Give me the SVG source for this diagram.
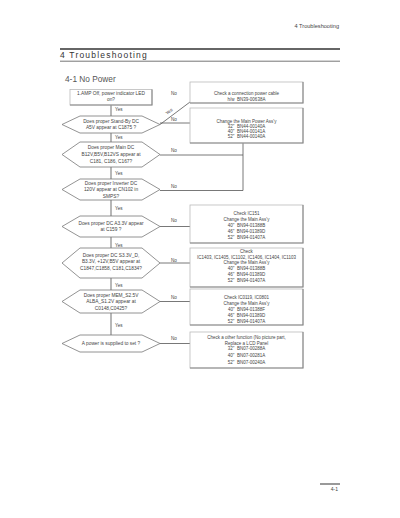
<svg xmlns="http://www.w3.org/2000/svg" width="400" height="518" viewBox="0 0 400 518">
<style>
text{font-family:"Liberation Sans",Arial,sans-serif;fill:#444;white-space:pre}
.t{font-size:4.8px;text-anchor:middle}
.r{font-size:4.5px;text-anchor:middle}
.lb{font-size:4.6px}
.hex{fill:#fff;stroke:#777;stroke-width:0.8}
.box{fill:#fff;stroke:#bbb;stroke-width:0.8}
.sh{fill:none;stroke:#888;stroke-width:1.1}
.v{stroke:#999;stroke-width:1.4;fill:none}
.h{stroke:#555;stroke-width:0.8;fill:none}
</style>
<rect width="400" height="518" fill="#fff"/>
<text x="339" y="28" style="font-size:5.6px;text-anchor:end">4 Troubleshooting</text>
<line x1="60" y1="49" x2="340" y2="49" stroke="#333" stroke-width="1.7"/>
<text x="60" y="57.5" style="font-size:8.5px;letter-spacing:1.2px;fill:#333">4 Troubleshooting</text>
<line x1="60" y1="61.2" x2="340" y2="61.2" stroke="#666" stroke-width="0.9"/>
<text x="65" y="82" style="font-size:8.3px;fill:#555">4-1 No Power</text>

<g id="connectors">
<path class="v" d="M111,105V116M111,133V142M111,167V179M111,200V216M111,237V248M111,278V290M111,313V335"/>
<path class="h" d="M160,124.5L190,102"/>
<path class="h" d="M160,123H190M160,155H243V143M160,190.5H243V155M160,226.5H190M160,263H190M160,301.5H190M160,343.5H190"/>
<text class="lb" x="115" y="110.5">Yes</text>
<text class="lb" x="115" y="138.5">Yes</text>
<text class="lb" x="115" y="174.5">Yes</text>
<text class="lb" x="115" y="209.5">Yes</text>
<text class="lb" x="115" y="246.5">Yes</text>
<text class="lb" x="115" y="286.5">Yes</text>
<text class="lb" x="115" y="326.5">Yes</text>
<text class="lb" x="167" y="115" transform="rotate(-37 167 115)">Yes</text>
<text class="lb" x="171" y="94.5">No</text>
<text class="lb" x="171" y="121">No</text>
<text class="lb" x="171" y="151.5">No</text>
<text class="lb" x="171" y="187.5">No</text>
<text class="lb" x="171" y="221.5">No</text>
<text class="lb" x="171" y="261.5">No</text>
<text class="lb" x="171" y="298.5">No</text>
<text class="lb" x="171" y="339.5">No</text>
</g>

<g id="start">
<rect class="box" x="70" y="89.5" width="82" height="15.5"/>
<path class="sh" d="M152,89.5V105H70"/>
<text class="t" x="111" y="94.8">1.AMP Off, power indicator LED</text>
<text class="t" x="111" y="101.3">on?</text>
</g>

<g id="q1">
<path class="hex" d="M62,124.5L80,116H142L160,124.5L142,133H80Z"/>
<text class="t" x="111" y="122.7">Does proper Stand-By DC</text>
<text class="t" x="111" y="128.7">A5V appear at C1875 ?</text>
</g>
<g id="q2">
<path class="hex" d="M62,154.5L80,142H142L160,154.5L142,167H80Z"/>
<text class="t" x="111" y="148.7">Does proper Main DC</text>
<text class="t" x="111" y="155.7">B12V,B5V,B12VS appear at</text>
<text class="t" x="111" y="162.7">C181, C186, C167?</text>
</g>
<g id="q3">
<path class="hex" d="M62,189.5L80,179H142L160,189.5L142,200H80Z"/>
<text class="t" x="111" y="184.7">Does proper Inverter DC</text>
<text class="t" x="111" y="191.2">120V appear at CN102 in</text>
<text class="t" x="111" y="197.7">SMPS?</text>
</g>
<g id="q4">
<path class="hex" d="M62,226.5L80,216H142L160,226.5L142,237H80Z"/>
<text class="t" x="111" y="224.7">Does proper DC A3.3V appear</text>
<text class="t" x="111" y="230.7">at C159 ?</text>
</g>
<g id="q5">
<path class="hex" d="M62,263L80,248H142L160,263L142,278H80Z"/>
<text class="t" x="111" y="256.7">Does proper DC S3.3V_D,</text>
<text class="t" x="111" y="263.4">B3.3V, +12V,B5V appear at</text>
<text class="t" x="111" y="270">C1847,C1858, C181,C1834?</text>
</g>
<g id="q6">
<path class="hex" d="M62,301.5L80,290H142L160,301.5L142,313H80Z"/>
<text class="t" x="111" y="297.4">Does proper MEM_S2.5V</text>
<text class="t" x="111" y="303.4">ALBA_S1.2V appear at</text>
<text class="t" x="111" y="310">C0148,C0425?</text>
</g>
<g id="q7">
<path class="hex" d="M62,343.5L80,335H142L160,343.5L142,352H80Z"/>
<text class="t" x="111" y="344.7">A power is supplied to set ?</text>
</g>

<g id="a1">
<rect class="box" x="190" y="82" width="113" height="21"/>
<path class="sh" d="M303,82V103H190"/>
<text class="r" x="246.5" y="95">Check a connection power cable</text>
<text class="r" x="246.5" y="100.7">h/w  BN39-00638A</text>
</g>
<g id="a2">
<rect class="box" x="190" y="108" width="113" height="35"/>
<path class="sh" d="M303,108V143H190"/>
<text class="r" x="246.5" y="123.2">Change the Main Power Ass'y</text>
<text class="r" x="246.5" y="128.2">32"  BN44-00140A</text>
<text class="r" x="246.5" y="133.2">40"  BN44-00141A</text>
<text class="r" x="246.5" y="138.2">52"  BN44-00140A</text>
</g>
<g id="a3">
<rect class="box" x="190" y="205" width="113" height="38"/>
<path class="sh" d="M303,205V243H190"/>
<text class="r" x="246.5" y="214.5">Check IC151</text>
<text class="r" x="246.5" y="220.5">Change the Main Ass'y</text>
<text class="r" x="246.5" y="226.5">40"  BN94-01388B</text>
<text class="r" x="246.5" y="232.5">46"  BN94-01389D</text>
<text class="r" x="246.5" y="238.5">52"  BN94-01407A</text>
</g>
<g id="a4">
<rect class="box" x="190" y="248" width="113" height="39"/>
<path class="sh" d="M303,248V287H190"/>
<text class="r" x="246.5" y="252.8">Check</text>
<text class="r" x="246.5" y="258.5">IC1403, IC1405, IC1102, IC1406, IC1404, IC1103</text>
<text class="r" x="246.5" y="264.3">Change the Main Ass'y</text>
<text class="r" x="246.5" y="270">40"  BN94-01388B</text>
<text class="r" x="246.5" y="275.8">46"  BN94-01389D</text>
<text class="r" x="246.5" y="281.5">52"  BN94-01407A</text>
</g>
<g id="a5">
<rect class="box" x="190" y="289" width="113" height="36"/>
<path class="sh" d="M303,289V325H190"/>
<text class="r" x="246.5" y="298.5">Check IC0119, IC0801</text>
<text class="r" x="246.5" y="304.5">Change the Main Ass'y</text>
<text class="r" x="246.5" y="310.5">40"  BN94-01388F</text>
<text class="r" x="246.5" y="316.5">46"  BN94-01389D</text>
<text class="r" x="246.5" y="322.5">52"  BN94-01407A</text>
</g>
<g id="a6">
<rect class="box" x="190" y="332" width="113" height="36"/>
<path class="sh" d="M303,332V368H190"/>
<text class="r" x="246.5" y="339">Check a other function (No picture part,</text>
<text class="r" x="246.5" y="344.5">Replace a LCD Panel</text>
<text class="r" x="246.5" y="350">32"  BN07-00288A</text>
<text class="r" x="246.5" y="356.5">40"  BN07-00281A</text>
<text class="r" x="246.5" y="363.5">52"  BN07-00240A</text>
</g>

<line x1="320" y1="484" x2="340" y2="484" stroke="#555" stroke-width="1.2"/>
<text x="338" y="490.5" style="font-size:5px;text-anchor:end">4-1</text>
</svg>
